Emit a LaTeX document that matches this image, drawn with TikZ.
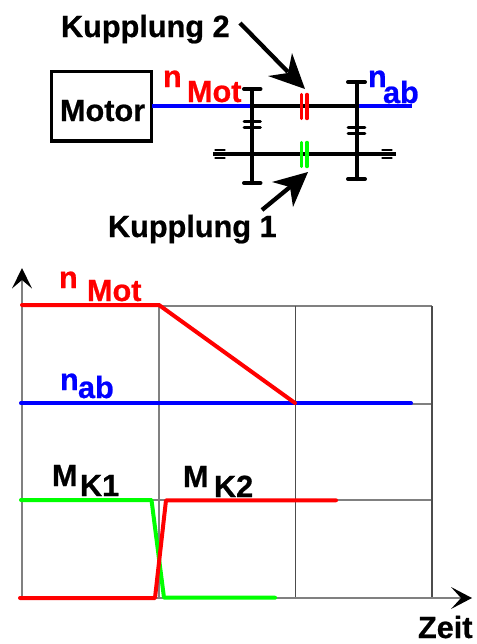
\documentclass[tikz,border=0pt]{standalone}
\usepackage{fontspec}
\setmainfont[BoldFeatures={FakeBold=0.7}]{Liberation Sans}
\definecolor{cred}{RGB}{255,0,0}
\definecolor{cblue}{RGB}{0,0,255}
\definecolor{cgreen}{RGB}{0,255,0}
\definecolor{cgrid}{RGB}{128,128,128}
\tikzset{
  lbl/.style={anchor=base west,inner sep=0pt,outer sep=0pt,font=\bfseries\fontsize{23}{24}\selectfont},
  box/.style={draw=black,line width=2.8pt,inner sep=0pt,outer sep=0pt,minimum width=75pt,minimum height=52pt,anchor=north west},
  shaft/.style={line width=3pt},
  gear/.style={line width=3pt,line cap=round},
  bearing/.style={line width=2.2pt,line cap=round},
  clutch/.style={line width=2.6pt,line cap=round},
  grid/.style={draw=cgrid,line width=1.5pt},
  gridthin/.style={draw=black!70,line width=1pt},
  curve/.style={line width=3pt,line join=round,line cap=round},
  callout/.style={line width=3.2pt},
}
\begin{document}
\begin{tikzpicture}[x=0.75pt,y=-0.75pt]
\useasboundingbox (0,0) rectangle (476,644);
% top: labels
\node[lbl] (k2) at (61,37) {Kupplung 2};
\node[lbl] (k1) at (108,237) {Kupplung 1};
\node[box] (motor) at (51.5,71.5) {};
\node[lbl] (motortxt) at (60,121) {Motor};
% shafts
\coordinate (g1t) at (252,89); \coordinate (g1b) at (252,183);
\coordinate (g2t) at (356.5,82); \coordinate (g2b) at (356.5,179);
\coordinate (ls) at (213,154); \coordinate (le) at (396,154);
\draw[shaft] (250,106) -- (356,106);
\draw[shaft,cblue] (motor.east |- 0,106) -- (251,106);
\draw[shaft,cblue] (355,106) -- (412,106);
\draw[shaft] (ls) -- (le);
\draw[gear] (g1t) -- (g1b);
\draw[gear] (g2t) -- (g2b);
\foreach \y in {89,183} \draw[gear] (244,\y) -- (260.5,\y);
\foreach \y in {82,179} \draw[gear] (348,\y) -- (365,\y);
\foreach \y in {121.5,127.5} \draw[bearing] (244,\y) -- (260.5,\y);
\foreach \y in {127.5,133.5} \draw[bearing] (348,\y) -- (365,\y);
\foreach \x in {220,387} \foreach \y in {150,158} \draw[bearing] (\x-4.5,\y) -- (\x+4.5,\y);
% clutches
\foreach \x in {301.5,307} {
  \draw[clutch,cred] (\x,94.5) -- (\x,118.5);
  \draw[clutch,cgreen] (\x,142.5) -- (\x,166.5);
}
% callouts
\coordinate (a2) at (305,89);
\coordinate (a1) at (308,172);
\draw[callout] (240,23) -- (288,72);
\fill (a2) -- (292,53) -- (288,73) -- (268,76) -- cycle;
\draw[callout] (262,210) -- (290,187);
\fill (a1) -- (272,182) -- (290,187) -- (293,207) -- cycle;
% speed labels top
\node[lbl,text=cred] (n1) at (163,87) {n};
\node[lbl,text=cred] (m1) at (187,102) {Mot};
\node[lbl,text=cblue] (n2) at (368,87) {n};
\node[lbl,text=cblue] (ab2) at (383,103) {ab};
% grid
\draw[grid] (22,306) -- (432,306);
\draw[grid] (22,403.5) -- (432,403.5);
\draw[grid] (22,500) -- (432,500);
\draw[grid] (159,306) -- (159,598);
\draw[gridthin] (295.3,306) -- (295.3,598);
\draw[gridthin] (432,306) -- (432,598);
% axes
\coordinate (ytip) at (22,268); \coordinate (xtip) at (472,598);
\draw[grid] (22,598) -- (22,275);
\fill (ytip) -- (32,288.5) -- (22,280) -- (12,288.5) -- cycle;
\draw[grid] (22,598) -- (462,598);
\fill (xtip) -- (451,587) -- (461,598) -- (451,609) -- cycle;
% curves
\draw[curve,cgreen] (21,500) -- (151.5,500) -- (164,597.7) -- (275,597.7);
\draw[curve,cred] (20,598) -- (155,598) -- (166,500.3) -- (336,500.3);
\draw[curve,cblue] (21,403.3) -- (411,403.3);
\draw[curve,cred] (22,305) -- (159,305) -- (295,403);
% chart labels
\node[lbl,text=cred] (n3) at (59,288) {n};
\node[lbl,text=cred] (m3) at (87,301) {Mot};
\node[lbl,text=cblue] (n4) at (60,390) {n};
\node[lbl,text=cblue] (ab4) at (78,398) {ab};
\node[lbl] (mk1) at (52,486) {M};
\node[lbl] (k1s) at (80,496) {K1};
\node[lbl] (mk2) at (183,487) {M};
\node[lbl] (k2s) at (214,497) {K2};
\node[lbl] (zeit) at (418,638) {Zeit};
\end{tikzpicture}
\end{document}
